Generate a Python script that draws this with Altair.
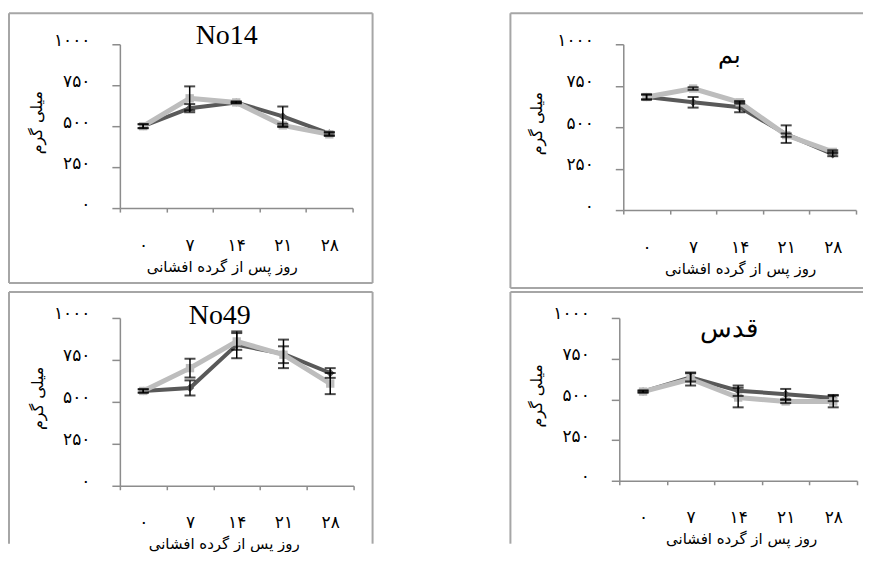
import altair as alt
import pandas as pd

# ---------------- data ----------------
days = ["۰", "۷", "۱۴", "۲۱", "۲۸"]
y_ticks = [0, 250, 500, 750, 1000]
y_tick_labels = ["۰", "۲۵۰", "۵۰۰", "۷۵۰", "۱۰۰۰"]
y_title = "میلی گرم"
x_title = "روز پس از گرده افشانی"
panel_names = ["No14", "بم", "No49", "قدس"]

no14_dark = [500, 610, 645, 560, 455]
no14_dark_err = [12, 25, 5, 60, 10]
no14_light = [500, 670, 645, 505, 450]
no14_light_err = [12, 73, 5, 10, 10]

bam_dark = [682, 650, 620, 458, 337]
bam_dark_err = [15, 32, 30, 53, 12]
bam_light = [682, 733, 650, 452, 351]
bam_light_err = [15, 8, 8, 10, 10]

no49_dark = [565, 583, 840, 786, 672]
no49_dark_err = [10, 45, 80, 85, 29]
no49_light = [565, 701, 860, 781, 609]
no49_light_err = [10, 56, 50, 50, 63]

ghods_dark = [548, 635, 553, 532, 508]
ghods_dark_err = [6, 25, 32, 32, 19]
ghods_light = [548, 625, 511, 487, 487]
ghods_light_err = [6, 40, 60, 10, 36]

# ---------------- style / layout ----------------
DARK = "#595959"
LIGHT = "#BDBDBD"
FRAME = "#A6A6A6"
AXIS = "#8C8C8C"

layouts = {
    "No14": dict(w=233, h=164, fl=-111, ft=-31, fr=253, fb=239, open_r=False, open_b=False,
                 tx=107, ty=-8, ts=28, xtx=102, ytx=-75),
    "بم": dict(w=233, h=166, fl=-113, ft=-31, fr=240, fb=244, open_r=True, open_b=False,
               tx=106, ty=12, ts=24, xtx=117, ytx=-79),
    "No49": dict(w=234, h=168, fl=-111, ft=-26, fr=253, fb=226, open_r=False, open_b=True,
                 tx=100, ty=-2, ts=28, xtx=104, ytx=-74),
    "قدس": dict(w=238, h=163, fl=-109, ft=-26, fr=244, fb=226, open_r=True, open_b=True,
                tx=110, ty=11, ts=26, xtx=122, ytx=-75),
}

label_expr = " : ".join(
    f"datum.value == {v} ? '{t}'" for v, t in zip(y_ticks, y_tick_labels)
) + " : ''"

one = pd.DataFrame({"a": [0]})


def frame_line(x1, y1, x2, y2):
    return alt.Chart(one).mark_rule(color=FRAME, strokeWidth=2).encode(
        x=alt.value(x1), x2=alt.value(x2), y=alt.value(y1), y2=alt.value(y2)
    )


def panel(name, dark, dark_err, light, light_err):
    L = layouts[name]
    rows = []
    for s, vals, errs in (("dark", dark, dark_err), ("light", light, light_err)):
        for d, v, e in zip(days, vals, errs):
            rows.append({"day": d, "series": s, "value": v, "lo": v - e, "hi": v + e})
    df = pd.DataFrame(rows)

    xscale = alt.Scale(type="band", domain=days, paddingInner=0, paddingOuter=0)
    x_axis = alt.Axis(
        title=x_title, labelAngle=0, tickBand="extent", tickSize=4, labelPadding=33,
        labelBaseline="middle", titleX=L["xtx"], titleY=58, titleBaseline="middle",
        titleAnchor="middle", titleAlign="center", titleFontSize=15,
    )
    y_axis = alt.Axis(
        values=y_ticks, labelExpr=label_expr, title=y_title, tickSize=8, labelPadding=22,
        labelOffset=-4, titleX=L["ytx"], titleY=L["h"] / 2 - 4, grid=False,
        titleAnchor="middle", titleAlign="center", titleFontSize=16,
    )
    yscale = alt.Scale(domain=[0, 1000], nice=False)

    X = alt.X("day:N", sort=days, scale=xscale, axis=x_axis)

    def Yf(field):
        return alt.Y(f"{field}:Q", scale=yscale, axis=y_axis)

    base = alt.Chart(df)
    dk = base.transform_filter("datum.series == 'dark'")
    lt = base.transform_filter("datum.series == 'light'")

    layers = [
        dk.mark_line(color=DARK, strokeWidth=4).encode(x=X, y=Yf("value")),
        dk.mark_point(shape="diamond", filled=True, color=DARK, size=70, opacity=1).encode(x=X, y=Yf("value")),
        lt.mark_line(color=LIGHT, strokeWidth=5).encode(x=X, y=Yf("value")),
        lt.mark_point(shape="square", filled=True, color=LIGHT, size=70, opacity=1).encode(x=X, y=Yf("value")),
        base.mark_rule(color="black", strokeWidth=1.5).encode(x=X, y=Yf("lo"), y2="hi:Q"),
        base.mark_tick(color="black", thickness=2, size=11).encode(x=X, y=Yf("lo")),
        base.mark_tick(color="black", thickness=2, size=11).encode(x=X, y=Yf("hi")),
        alt.Chart(pd.DataFrame({"t": [name]})).mark_text(
            font="Liberation Serif", fontSize=L["ts"], color="black", baseline="middle", align="center"
        ).encode(text="t:N", x=alt.value(L["tx"]), y=alt.value(L["ty"])),
    ]
    # frame around the panel
    layers.append(frame_line(L["fl"], L["ft"], L["fr"], L["ft"]))       # top
    layers.append(frame_line(L["fl"], L["ft"], L["fl"], L["fb"]))       # left
    if not L["open_r"]:
        layers.append(frame_line(L["fr"], L["ft"], L["fr"], L["fb"]))   # right
    if not L["open_b"]:
        layers.append(frame_line(L["fl"], L["fb"], L["fr"], L["fb"]))   # bottom

    return alt.layer(*layers).properties(width=L["w"], height=L["h"])


tl = panel("No14", no14_dark, no14_dark_err, no14_light, no14_light_err)
tr = panel("بم", bam_dark, bam_dark_err, bam_light, bam_light_err)
bl = panel("No49", no49_dark, no49_dark_err, no49_light, no49_light_err)
br = panel("قدس", ghods_dark, ghods_dark_err, ghods_light, ghods_light_err)

chart = (
    alt.concat(tl, tr, bl, br, columns=2, spacing={"row": 2, "column": 136}, align="none")
    .properties(padding={"left": 0, "top": 4, "right": 0, "bottom": 0}, background="white")
    .configure_view(stroke=None)
    .configure_axis(
        labelFont="DejaVu Sans", titleFont="DejaVu Sans",
        labelFontSize=17, titleFontWeight="normal",
        labelColor="black", titleColor="black",
        domainColor=AXIS, tickColor=AXIS, domainWidth=1.5, tickWidth=1.5,
    )
)

chart.save("out.html", embed_options={"renderer": "svg", "actions": False})
